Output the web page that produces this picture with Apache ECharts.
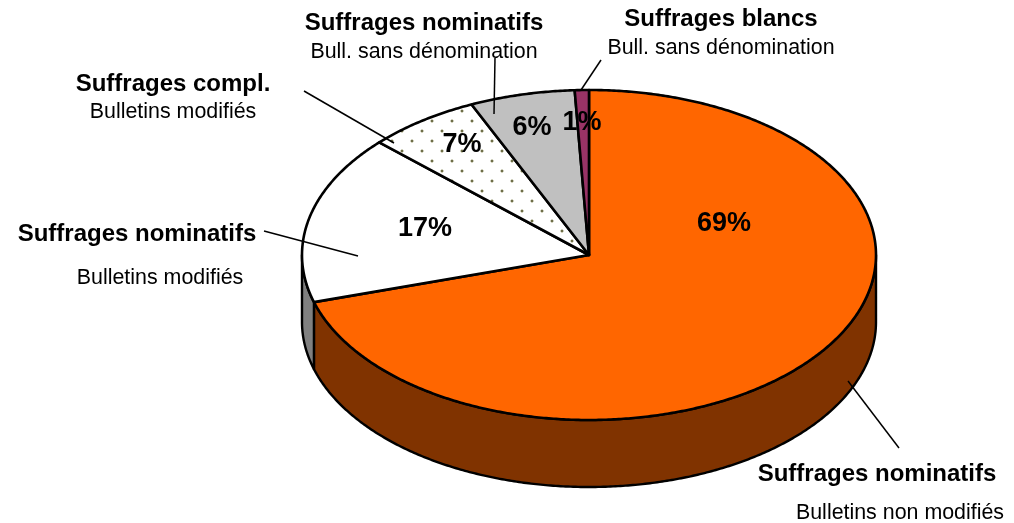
<!DOCTYPE html>
<html><head><meta charset="utf-8">
<style>html,body{margin:0;padding:0;background:#fff}#c{width:1014px;height:523px}</style>
<script src="https://cdn.jsdelivr.net/npm/echarts@6/dist/echarts.min.js"></script>
</head><body><div id="c"></div>
<script>
const sliceNames = ['Nominatifs non modifiés','Nominatifs modifiés','Compl. modifiés','Nominatifs sans dén.','Blancs sans dén.'];
const sliceValues = [69, 17, 7, 6.2, 0.8];
const titles = ['Suffrages nominatifs','Suffrages nominatifs','Suffrages compl.','Suffrages nominatifs','Suffrages blancs'];
const subtitles = ['Bulletins non modifiés','Bulletins modifiés','Bulletins modifiés','Bull. sans dénomination','Bull. sans dénomination'];

const FONT = '"Liberation Sans", Arial, sans-serif';
const CX = 589, CY = 255, RX = 287, RY = 165, DEPTH = 67, TILT = 5.8;
const topColors = ['#FF6600', '#FFFFFF', 'dots', '#C0C0C0', '#993366'];
const wallColors = ['#803300', '#808080', '#808080', '#808080', '#808080'];
const percentAnchors = [[724,224],[425,229],[462,145],[532,128],[582,123]];
const titleAnchors = [[877,474],[137,234],[173,84],[424,23],[721,19]];
const subAnchors = [[900,513],[160,278],[173,112],[424,52],[721,48]];
const leaders = [[[848,381],[899,448]],[[264,231],[358,256]],[[304,91],[394,143]],[[495,58],[494,114]],[[601,60],[581,90]]];

function dotPattern(){
  const c = document.createElement('canvas'); c.width = 20; c.height = 20;
  const g = c.getContext('2d');
  g.fillStyle = '#fff'; g.fillRect(0,0,20,20);
  [[11,0],[1,10]].forEach(p=>{
    [[-1,0],[-1,1],[2,0],[2,1],[0,-1],[1,-1],[0,2],[1,2]].forEach(o=>{
      g.fillStyle = '#d4d4c2';
      g.fillRect((p[0]+o[0]+20)%20,(p[1]+o[1]+20)%20,1,1);
    });
    g.fillStyle = '#6e6e48'; g.fillRect(p[0],p[1],2,2);
  });
  return {image:c, repeat:'repeat'};
}
const dots = dotPattern();
const total = sliceValues.reduce((a,b)=>a+b,0);
// Tilted-view foreshortening of a true pie angle (degrees clockwise from 12 o'clock)
function warp(t){ const s = Math.sin(t*Math.PI/180); return t - TILT*s*Math.abs(s); }
function pt(t,dy){ const r=t*Math.PI/180; return [CX+RX*Math.sin(r), CY-RY*Math.cos(r)+(dy||0)]; }
function arc(a,b,dy){ const out=[]; const n=Math.max(2,Math.ceil(Math.abs(b-a))*2);
  for(let i=0;i<=n;i++) out.push(pt(a+(b-a)*i/n,dy)); return out; }

function renderItem(params, api){
  const i = params.dataIndex;
  const before = sliceValues.slice(0,i).reduce((a,b)=>a+b,0);
  const a = warp(before/total*360), b = warp((before+api.value(0))/total*360);
  const children = [];
  const wa = Math.max(a,90), wb = Math.min(b,270);
  if (wb > wa) {
    const upper = arc(wa,wb,0), lower = arc(wb,wa,DEPTH);
    children.push({type:'polygon', shape:{points:upper.concat(lower)},
      style:{fill:wallColors[i], stroke:'#000', lineWidth:2.4, lineJoin:'round'}});
  }
  const fill = topColors[i]==='dots' ? dots : topColors[i];
  children.push({type:'polygon', shape:{points:[[CX,CY]].concat(arc(a,b,0))},
    style:{fill:fill, stroke:'#000', lineWidth:2.6, lineJoin:'round'}});
  children.push({type:'text', z2:10, style:{text:Math.round(api.value(0))+'%', x:percentAnchors[i][0], y:percentAnchors[i][1],
    align:'center', verticalAlign:'middle', font:'bold 27px '+FONT, fill:'#000'}});
  return {type:'group', children};
}

const graphics = [];
titles.forEach((t,i)=>{
  graphics.push({type:'polyline', z:20, shape:{points:leaders[i]}, style:{stroke:'#000', lineWidth:1.5, fill:null}});
  graphics.push({type:'text', z:20, style:{text:t, x:titleAnchors[i][0], y:titleAnchors[i][1], align:'center', verticalAlign:'middle', font:'bold 24px '+FONT, fill:'#000'}});
  graphics.push({type:'text', z:20, style:{text:subtitles[i], x:subAnchors[i][0], y:subAnchors[i][1], align:'center', verticalAlign:'middle', font:'21.4px '+FONT, fill:'#000'}});
});

const chart = echarts.init(document.getElementById('c'), null, {renderer:'canvas'});
chart.setOption({
  animation:false, backgroundColor:'#fff',
  series:[{type:'custom', coordinateSystem:'none', renderItem,
    data: sliceValues.map((v,i)=>({name:sliceNames[i], value:[v]}))}],
  graphic:graphics
});
</script></body></html>
